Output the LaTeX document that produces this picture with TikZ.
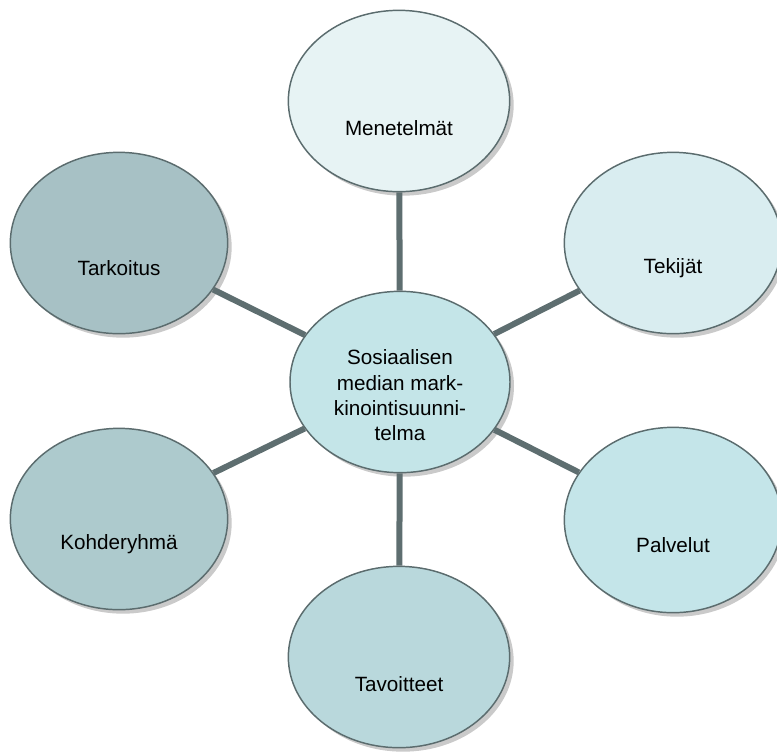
\documentclass[tikz,border=0pt]{standalone}
\usepackage{fontspec}
\setmainfont{Liberation Sans}
\usepackage{tikz}
\usetikzlibrary{shapes.geometric,shadows}
\definecolor{rimcol}{HTML}{5B6C6E}
\definecolor{linkcol}{HTML}{5E6E70}
\definecolor{menecol}{HTML}{E7F3F4}
\definecolor{tekicol}{HTML}{D9EDF0}
\definecolor{palvcol}{HTML}{C4E5E9}
\definecolor{hubcol}{HTML}{C4E5E8}
\definecolor{tavocol}{HTML}{B9D8DC}
\definecolor{kohdcol}{HTML}{ADCACD}
\definecolor{tarkcol}{HTML}{A7C1C5}
\tikzstyle{bubble} = [ellipse, draw=rimcol, line width=1.1pt, inner sep=0pt,
    minimum width=163pt, minimum height=136pt,
    drop shadow={shadow xshift=3pt, shadow yshift=-3pt, opacity=0.35, fill=black!60}]
\tikzstyle{bubbletext} = [font=\fontsize{15.5}{19}\selectfont, text=black, align=center, yshift=-20pt]
\tikzstyle{link} = [draw=linkcol, line width=4.5pt]

\begin{document}
\begin{tikzpicture}[x=0.75pt, y=-0.75pt]
                \useasboundingbox (0,0) rectangle (777,751);
                % outer bubbles
                \node [bubble, fill=menecol, minimum width=166pt, label={[bubbletext]center:Menetelmät}] (menetelmat) at (399,101) {};
                \node [bubble, fill=tekicol, label={[bubbletext, yshift=1pt]center:Tekijät}] (tekijat) at (673,243) {};
                \node [bubble, fill=palvcol, minimum height=139pt, label={[bubbletext, yshift=1pt]center:Palvelut}] (palvelut) at (673,520) {};
                \node [bubble, fill=tavocol, minimum width=166pt, label={[bubbletext]center:Tavoitteet}] (tavoitteet) at (399,657) {};
                \node [bubble, fill=kohdcol, label={[bubbletext, yshift=1pt]center:Kohderyhmä}] (kohderyhma) at (119,519) {};
                \node [bubble, fill=tarkcol, label={[bubbletext, yshift=1pt]center:Tarkoitus}] (tarkoitus) at (119,243) {};
                % hub
                \node [bubble, fill=hubcol, minimum width=165pt,
                    label={[bubbletext, yshift=10pt]center:Sosiaalisen\\median mark-\\kinointisuunni-\\telma}] (hub) at (400,382) {};
                \foreach \n in {menetelmat,tekijat,palvelut,tavoitteet,kohderyhma,tarkoitus}
                    \draw [link] (hub) -- (\n);
            \end{tikzpicture}
\end{document}
